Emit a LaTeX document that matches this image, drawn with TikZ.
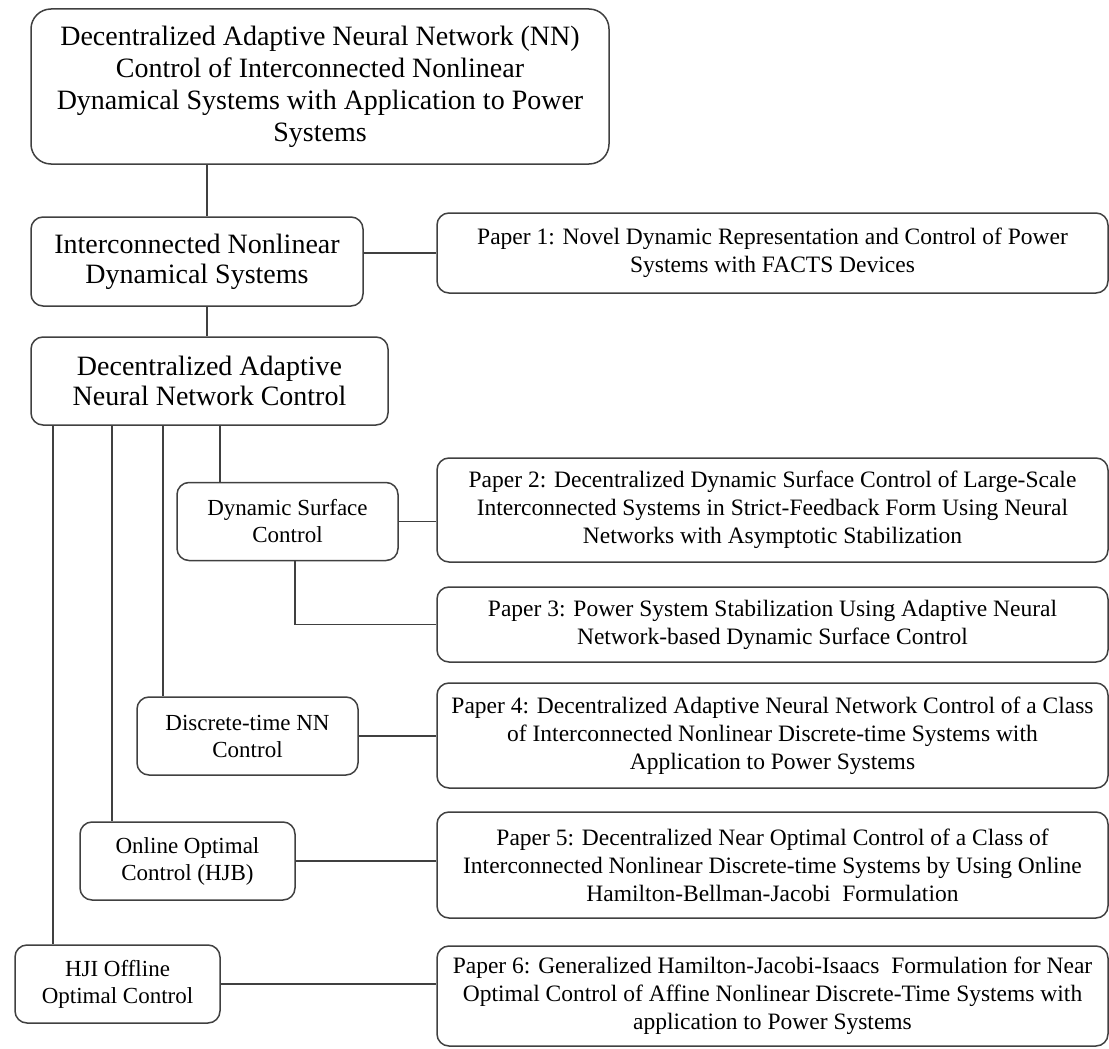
\documentclass[tikz,border=0pt]{standalone}
\usepackage{fontspec}
\setmainfont{Liberation Serif}
\begin{document}
\begin{tikzpicture}[x=1pt,y=-1pt,
  box/.style={draw=black!75, line width=1.5pt, rounded corners=12pt, align=center, inner sep=0pt},
  mainbox/.style={box, font=\fontsize{28}{30}\selectfont},
  subbox/.style={box, font=\fontsize{23}{27}\selectfont, minimum height=78pt},
  paper/.style={box, font=\fontsize{23.5}{28}\selectfont, minimum width=671pt},
  link/.style={draw=black!75, line width=1.5pt}]
\useasboundingbox (0,0) rectangle (1109,1049);
% left column
\node[mainbox, rounded corners=20pt, minimum width=578pt, minimum height=155pt,
  font=\fontsize{28}{32}\selectfont] (top) at (320,86.5)
  {Decentralized Adaptive Neural Network (NN)\\ Control of Interconnected Nonlinear\\
   Dynamical Systems with Application to Power\\ Systems};
\node[mainbox, minimum width=332pt, minimum height=89pt] (inter) at (197,261.5)
  {Interconnected Nonlinear\\ Dynamical Systems};
\node[mainbox, minimum width=357pt, minimum height=88pt] (dann) at (209.5,381)
  {Decentralized Adaptive\\ Neural Network Control};
\node[subbox, minimum width=221pt] (dsc) at (287.5,521.5) {Dynamic Surface\\ Control};
\node[subbox, minimum width=221pt] (dtnn) at (247.5,736) {Discrete-time NN\\ Control};
\node[subbox, minimum width=215pt] (online) at (187.5,861) {Online Optimal\\ Control (HJB)};
\node[subbox, minimum width=205pt] (hji) at (117.5,984) {HJI Offline\\ Optimal Control};
% papers
\node[paper, minimum height=80pt] (p1) at (772.5,253)
  {Paper 1: Novel Dynamic Representation and Control of Power\\ Systems with FACTS Devices};
\node[paper, minimum height=104pt] (p2) at (772.5,510)
  {Paper 2: Decentralized Dynamic Surface Control of Large-Scale\\
   Interconnected Systems in Strict-Feedback Form Using Neural\\
   Networks with Asymptotic Stabilization};
\node[paper, minimum height=75pt] (p3) at (772.5,624.5)
  {Paper 3: Power System Stabilization Using Adaptive Neural\\
   Network-based Dynamic Surface Control};
\node[paper, minimum height=105pt] (p4) at (772.5,735.5)
  {Paper 4: Decentralized Adaptive Neural Network Control of a Class\\
   of Interconnected Nonlinear Discrete-time Systems with\\
   Application to Power Systems};
\node[paper, minimum height=106pt] (p5) at (772.5,865)
  {Paper 5: Decentralized Near Optimal Control of a Class of\\
   Interconnected Nonlinear Discrete-time Systems by Using Online\\
   Hamilton-Bellman-Jacobi\ \ Formulation};
\node[paper, minimum height=100pt] (p6) at (772.5,996)
  {Paper 6: Generalized Hamilton-Jacobi-Isaacs\ \ Formulation for Near\\
   Optimal Control of Affine Nonlinear Discrete-Time Systems with\\
   application to Power Systems};
% trunk
\coordinate (c1) at (207,0);
\draw[link] (top.south -| c1) -- (inter.north -| c1);
\draw[link] (inter.south -| c1) -- (dann.north -| c1);
\draw[link] (p1.west -| inter.east) -- (p1.west);
% branches
\foreach \x/\n in {53/hji, 112/online, 163/dtnn, 220/dsc}
  \draw[link] (dann.south -| \x,0) -- (\n.north -| \x,0);
\draw[link] (dsc.east) -- (dsc.east -| p2.west);
\draw[link] (dsc.south -| 295,0) |- (p3.west);
\draw[link] (dtnn.east) -- (dtnn.east -| p4.west);
\draw[link] (online.east) -- (online.east -| p5.west);
\draw[link] (hji.east) -- (hji.east -| p6.west);
\end{tikzpicture}
\end{document}
